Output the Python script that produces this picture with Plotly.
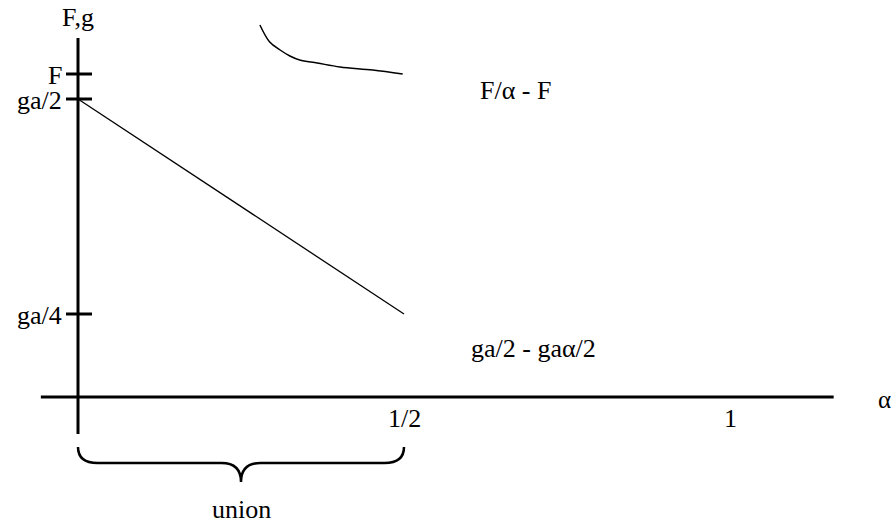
import plotly.graph_objects as go

# sketch of F and g against alpha
alpha_ticks = [0.5, 1.0]
alpha_tick_labels = ["1/2", "1"]
fg_ticks = [323, 298, 83]
fg_tick_labels = ["F", "ga/2", "ga/4"]

line_alpha = [0.0, 0.5]
line_value = [298, 83]

curve_alpha = [0.279, 0.294, 0.310, 0.325, 0.340, 0.367, 0.402, 0.452, 0.498]
curve_value = [372, 355, 347, 341, 337, 334, 330, 327, 323]

union_range = [0.0, 0.5]

x_axis_span = [-0.057, 1.159]
y_axis_span = [-37, 359]

FONT = "Liberation Serif, Times New Roman, serif"

fig = go.Figure()

# axes
fig.add_trace(go.Scatter(x=x_axis_span, y=[0, 0], mode="lines",
                         line=dict(color="black", width=3)))
fig.add_trace(go.Scatter(x=[0, 0], y=y_axis_span, mode="lines",
                         line=dict(color="black", width=3)))

# tick marks on the F,g axis
for v in fg_ticks:
    fig.add_trace(go.Scatter(x=[-0.0184, 0.0215], y=[v, v], mode="lines",
                             line=dict(color="black", width=3)))

fig.add_trace(go.Scatter(x=line_alpha, y=line_value, mode="lines",
                         line=dict(color="black", width=1.3)))
fig.add_trace(go.Scatter(x=curve_alpha, y=curve_value, mode="lines",
                         line=dict(color="black", width=1.5, shape="spline")))

# brace under the union range
a, b = union_range
m = (a + b) / 2
top, mid_y, tip = -50, -66, -85
r = 0.03
brace = (f"M {a},{top} Q {a},{mid_y} {a + r},{mid_y} L {m - r},{mid_y} "
         f"Q {m},{mid_y} {m},{tip} Q {m},{mid_y} {m + r},{mid_y} "
         f"L {b - r},{mid_y} Q {b},{mid_y} {b},{top}")
fig.add_shape(type="path", path=brace, xref="x", yref="y",
              line=dict(color="black", width=2.5))

ann = []
for v, t in zip(fg_ticks, fg_tick_labels):
    ann.append(dict(x=0, y=v, text=t, xanchor="right", xshift=-14, yshift=-1,
                    font=dict(size=26)))
for v, t in zip(alpha_ticks, alpha_tick_labels):
    ann.append(dict(x=v, y=0, text=t, yanchor="middle", yshift=-21,
                    font=dict(size=26)))
ann.append(dict(x=0, y=y_axis_span[1], text="F,g", yshift=21, font=dict(size=26)))
ann.append(dict(x=x_axis_span[1], y=0, text="α", xanchor="left", xshift=42,
                yshift=-2, font=dict(size=25)))
ann.append(dict(x=0.671, y=307, text="F/α - F", font=dict(size=26)))
ann.append(dict(x=0.698, y=49, text="ga/2 - gaα/2", font=dict(size=26)))
ann.append(dict(x=m, y=tip, text="union", yshift=-27, font=dict(size=26)))
for d in ann:
    d.update(showarrow=False, xref="x", yref="y")
    d["font"].update(family=FONT, color="black")

fig.update_layout(
    width=893, height=525,
    margin=dict(l=0, r=0, t=0, b=0),
    paper_bgcolor="white", plot_bgcolor="white",
    showlegend=False,
    annotations=ann,
)
fig.update_xaxes(range=[-78 / 652, 815 / 652], visible=False)
fig.update_yaxes(range=[-128, 397], visible=False)

fig.write_html("out.html", config={"displayModeBar": False},
               post_script="document.body.style.margin='0';"
                           "document.body.style.overflow='hidden';")
